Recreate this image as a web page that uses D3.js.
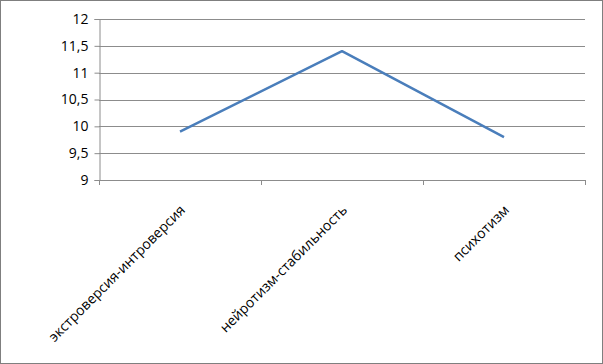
<!DOCTYPE html>
<html>
<head>
<meta charset="utf-8">
<script src="https://cdn.jsdelivr.net/npm/d3@7"></script>
<style>
  body { margin: 0; background: #fff; }
  svg { display: block; font-family: "Open Sans", "Noto Sans", sans-serif; }
</style>
</head>
<body>
<div id="chart"></div>
<script>
// categories and values
var categories = ["экстроверсия-интроверсия", "нейротизм-стабильность", "психотизм"];
var values = [9.9, 11.4, 9.8];
var yTicks = [9, 9.5, 10, 10.5, 11, 11.5, 12];

var width = 603, height = 364;
var margin = {top: 19, right: 18, bottom: 184, left: 99};

var svg = d3.select("#chart").append("svg")
    .attr("width", width)
    .attr("height", height);

// outer frame
svg.append("rect")
    .attr("x", 0.5).attr("y", 0.5)
    .attr("width", width - 1).attr("height", height - 1)
    .attr("fill", "#fff")
    .attr("stroke", "#7f7f7f");

var x = d3.scaleBand()
    .domain(categories)
    .range([margin.left, width - margin.right]);

var y = d3.scaleLinear()
    .domain([9, 12])
    .range([height - margin.bottom, margin.top]);

//gridlines
svg.append("g")
    .selectAll("line")
    .data(yTicks)
    .enter()
    .append("line")
    .attr("x1", margin.left)
    .attr("x2", width - margin.right)
    .attr("y1", function(d) { return Math.round(y(d)) + 0.5; })
    .attr("y2", function(d) { return Math.round(y(d)) + 0.5; })
    .attr("stroke", "#8c8c8c")
    .attr("stroke-width", 1);

// y axis
var yAxis = d3.axisLeft(y)
    .tickValues(yTicks)
    .tickSize(5)
    .tickPadding(6)
    .tickFormat(function(d) { return String(d).replace(".", ","); });

var gy = svg.append("g")
    .attr("transform", "translate(" + (margin.left + 0.5) + ",0)")
    .call(yAxis);
gy.select(".domain").attr("stroke", "#8c8c8c");
gy.selectAll(".tick line").attr("stroke", "#8c8c8c");
gy.selectAll(".tick text")
    .attr("fill", "#000")
    .style("font-size", "14px")
    .style("font-family", "'Open Sans', sans-serif");

// category ticks at band edges
var edges = categories.map(function(c) { return x(c); });
edges.push(x(categories[categories.length - 1]) + x.bandwidth());
svg.append("g")
    .selectAll("line")
    .data(edges)
    .enter()
    .append("line")
    .attr("x1", function(d) { return Math.round(d) + 0.5; })
    .attr("x2", function(d) { return Math.round(d) + 0.5; })
    .attr("y1", y(9))
    .attr("y2", y(9) + 5)
    .attr("stroke", "#8c8c8c");

// rotated category labels
svg.append("g")
    .selectAll("text")
    .data(categories)
    .enter()
    .append("text")
    .attr("transform", function(d) {
        var cx = x(d) + x.bandwidth() / 2 + 6;
        return "translate(" + cx + "," + (y(9) + 31) + ") rotate(-45)";
    })
    .attr("text-anchor", "end")
    .attr("fill", "#000")
    .style("font-size", "14px")
    .text(function(d) { return d; });

// the line
var line = d3.line()
    .x(function(d, i) { return x(categories[i]) + x.bandwidth() / 2; })
    .y(function(d) { return y(d); });

svg.append("path")
    .datum(values)
    .attr("d", line)
    .attr("fill", "none")
    .attr("stroke", "#4a7ebb")
    .attr("stroke-width", 2.5)
    .attr("stroke-linejoin", "round");
</script>
</body>
</html>
